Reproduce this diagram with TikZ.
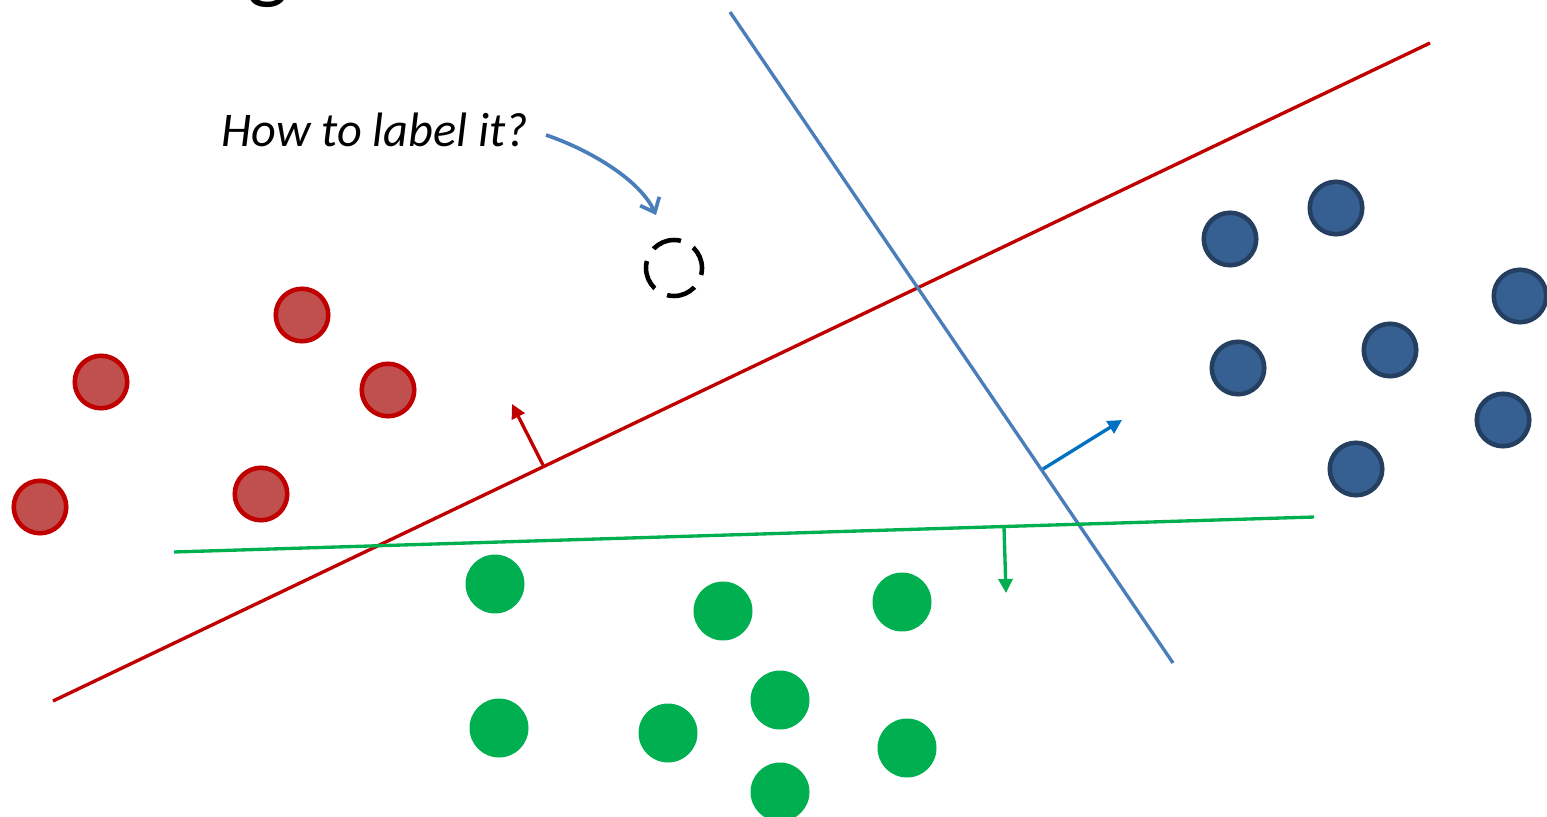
\documentclass[tikz,border=0pt]{standalone}
\usepackage{fontspec}
\setmainfont{Carlito}
\usepackage{xcolor}
\usetikzlibrary{arrows.meta}

\definecolor{cred}{HTML}{C00000}
\definecolor{credfill}{HTML}{C0504D}
\definecolor{cblue}{HTML}{4A7EBB}
\definecolor{cbluefill}{HTML}{376092}
\definecolor{cblueedge}{HTML}{243F60}
\definecolor{carrowblue}{HTML}{0070C0}
\definecolor{cgreen}{HTML}{00B050}

\begin{document}
\begin{tikzpicture}[
    x=0.02cm, y=-0.02cm,
    redpt/.style={circle, draw=cred, fill=credfill, line width=2.6pt, minimum size=1.05cm, inner sep=0pt},
    bluept/.style={circle, draw=cblueedge, fill=cbluefill, line width=2.6pt, minimum size=1.05cm, inner sep=0pt},
    greenpt/.style={circle, fill=cgreen, minimum size=1.18cm, inner sep=0pt},
    query/.style={circle, draw=black, dash pattern=on 17pt off 8pt, dash phase=4pt, line width=2.6pt, minimum size=1.12cm, inner sep=0pt},
    boundary/.style={line width=1.9pt},
    normal/.style={line width=1.9pt, -{Triangle[length=8pt,width=8pt]}}
]
\useasboundingbox (0,0) rectangle (1547,817);

% cut title letter
\begin{scope}
    \clip (0,0) rectangle (1547,817);
    \node[anchor=base, font=\fontsize{50}{60}\selectfont, inner sep=0pt] (title) at (268,-7) {g};
\end{scope}

% red class
\node[redpt] (r1) at (302,315) {};
\node[redpt] (r2) at (101,382) {};
\node[redpt] (r3) at (388,390) {};
\node[redpt] (r4) at (40,507) {};
\node[redpt] (r5) at (261,494) {};

% blue class
\node[bluept] (b1) at (1230,239) {};
\node[bluept] (b2) at (1336,208) {};
\node[bluept] (b3) at (1520,296) {};
\node[bluept] (b4) at (1390,350) {};
\node[bluept] (b5) at (1238,368) {};
\node[bluept] (b6) at (1503,420) {};
\node[bluept] (b7) at (1356,469) {};

% green class
\node[greenpt] (g1) at (495,584) {};
\node[greenpt] (g2) at (723,611) {};
\node[greenpt] (g3) at (902,602) {};
\node[greenpt] (g4) at (499,728) {};
\node[greenpt] (g5) at (668,733) {};
\node[greenpt] (g6) at (780,700) {};
\node[greenpt] (g7) at (907,748) {};
\node[greenpt] (g8) at (780,792) {};

% separating lines
\coordinate (redA) at (53,701);
\coordinate (redB) at (1430,43);
\coordinate (blueA) at (730,12);
\coordinate (blueB) at (1173,663);
\coordinate (greenA) at (174,552);
\coordinate (greenB) at (1314,517);
\draw[boundary, cred] (redA) -- (redB);
\draw[boundary, cblue] (blueA) -- (blueB);
\draw[boundary, cgreen] (greenA) -- (greenB);

% normals
\coordinate (redN0) at (543,465);
\coordinate (redN1) at (512,404);
\coordinate (blueN0) at (1043,469);
\coordinate (blueN1) at (1122,420);
\coordinate (greenN0) at (1004,527);
\coordinate (greenN1) at (1006,593);
\draw[normal, cred] (redN0) -- (redN1);
\draw[normal, carrowblue] (blueN0) -- (blueN1);
\draw[normal, cgreen] (greenN0) -- (greenN1);

% unknown point
\node[query] (q) at (674,268) {};
\node[anchor=west, font=\itshape\fontsize{27.5}{33}\selectfont, inner sep=0pt] (ask) at (221,130) {How to label it?};
\coordinate (askStart) at (546,135);
\coordinate (askEnd) at (656,215);
\draw[cblue, line width=2.1pt, -{Straight Barb[length=7pt,width=12pt,line width=2.1pt]}]
    (askStart) .. controls (590,150) and (640,180) .. (askEnd);
\end{tikzpicture}
\end{document}
